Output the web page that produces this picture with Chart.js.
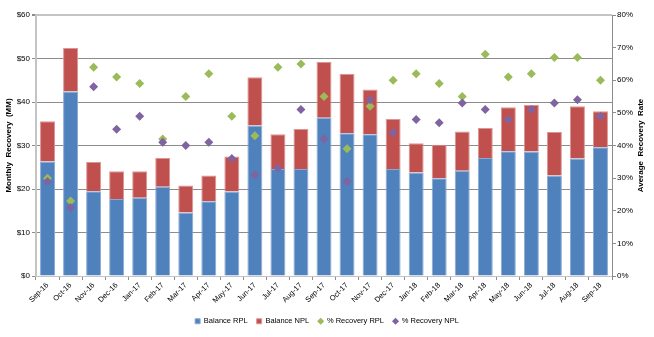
<!DOCTYPE html>
<html>
<head>
<meta charset="utf-8">
<script src="https://cdn.jsdelivr.net/npm/chart.js@4.4.1/dist/chart.umd.min.js"></script>
<style>
  html, body { margin: 0; padding: 0; background: #fff; }
  #wrap { width: 654px; height: 337px; position: relative; }
</style>
</head>
<body>
<div id="wrap"><canvas id="recoveryChart"></canvas></div>
<script>
const months = ['Sep-16', 'Oct-16', 'Nov-16', 'Dec-16', 'Jan-17', 'Feb-17', 'Mar-17', 'Apr-17',
  'May-17', 'Jun-17', 'Jul-17', 'Aug-17', 'Sep-17', 'Oct-17', 'Nov-17', 'Dec-17', 'Jan-18',
  'Feb-18', 'Mar-18', 'Apr-18', 'May-18', 'Jun-18', 'Jul-18', 'Aug-18', 'Sep-18'];

// $MM
const balanceRPL = [26.3, 42.4, 19.5, 17.7, 18.0, 20.5, 14.6, 17.2, 19.4, 34.6, 24.6, 24.6, 36.4,
  32.8, 32.6, 24.6, 23.8, 22.5, 24.2, 27.1, 28.7, 28.6, 23.1, 27.0, 29.6];
const balanceNPL = [9.3, 10.0, 6.7, 6.4, 6.1, 6.6, 6.2, 5.9, 8.1, 11.1, 8.0, 9.2, 12.8,
  13.7, 10.3, 11.5, 6.7, 7.7, 9.0, 6.9, 10.1, 10.7, 10.0, 12.0, 8.3];

// %
const recoveryRPL = [30, 23, 64, 61, 59, 42, 55, 62, 49, 43, 64, 65, 55,
  39, 52, 60, 62, 59, 55, 68, 61, 62, 67, 67, 60];
const recoveryNPL = [29, 21, 58, 45, 49, 41, 40, 41, 36, 31, 33, 51, 42,
  29, 54, 44, 48, 47, 53, 51, 48, 51, 53, 54, 49];

const leftTicks = [0, 10, 20, 30, 40, 50, 60];
const rightTicks = [0, 10, 20, 30, 40, 50, 60, 70, 80];

const FONT = "'Liberation Sans', Arial, sans-serif";

// right axis title reads bottom-to-top in the original
const rightTitle = {
  id: 'rightTitle',
  afterDraw(chart) {
    const { ctx, chartArea } = chart;
    ctx.save();
    ctx.translate(641, (chartArea.top + chartArea.bottom) / 2);
    ctx.rotate(-Math.PI / 2);
    ctx.font = 'bold 8px ' + FONT;
    ctx.fillStyle = '#000';
    ctx.textAlign = 'center';
    ctx.textBaseline = 'middle';
    ctx.fillText('Average  Recovery  Rate', 0, 0);
    ctx.restore();
  },
};

function gridColor(c) {
  return c.tick && c.tick.value === 60 ? '#c4c4c4' : '#8c8c8c';
}

new Chart(document.getElementById('recoveryChart'), {
  type: 'bar',
  data: {
    labels: months,
    datasets: [
      {
        label: 'Balance RPL',
        data: balanceRPL,
        backgroundColor: '#4f81bd',
        borderColor: '#8aaad4',
        borderWidth: 1,
        order: 2,
        pointStyle: 'rect',
      },
      {
        label: 'Balance NPL',
        data: balanceNPL,
        backgroundColor: '#c0504d',
        borderColor: '#dc9593',
        borderWidth: 1,
        order: 2,
        pointStyle: 'rect',
      },
      {
        type: 'line',
        label: '% Recovery RPL',
        data: recoveryRPL,
        yAxisID: 'y1',
        showLine: false,
        pointStyle: 'rectRot',
        pointRadius: 4.5,
        pointBackgroundColor: '#9bbb59',
        pointBorderColor: '#9bbb59',
        backgroundColor: '#9bbb59',
        borderColor: '#9bbb59',
        pointBorderWidth: 0,
        order: 1,
      },
      {
        type: 'line',
        label: '% Recovery NPL',
        data: recoveryNPL,
        yAxisID: 'y1',
        showLine: false,
        pointStyle: 'rectRot',
        pointRadius: 4.5,
        pointBackgroundColor: '#8064a2',
        pointBorderColor: '#8064a2',
        backgroundColor: '#8064a2',
        borderColor: '#8064a2',
        pointBorderWidth: 0,
        order: 0,
      },
    ],
  },
  options: {
    responsive: true,
    maintainAspectRatio: false,
    animation: false,
    layout: { padding: { top: 15, bottom: 2, left: 0, right: 0 } },
    datasets: { bar: { barPercentage: 0.65, categoryPercentage: 1 } },
    plugins: {
      legend: {
        position: 'bottom',
        labels: {
          usePointStyle: true,
          boxWidth: 5,
          boxHeight: 5,
          padding: 9,
          color: '#000',
          font: { family: FONT, size: 7.5 },
          sort: (a, b) => a.datasetIndex - b.datasetIndex,
        },
      },
      tooltip: { enabled: false },
    },
    scales: {
      x: {
        stacked: true,
        afterFit(scale) { scale.height = 32.5; },
        grid: { display: true, drawOnChartArea: false, drawTicks: true, tickLength: 4, color: '#8c8c8c', offset: true },
        border: { color: '#c4c4c4', width: 1 },
        ticks: {
          color: '#000',
          font: { family: FONT, size: 7.5 },
          minRotation: 45,
          maxRotation: 45,
          autoSkip: false,
          padding: 1,
        },
      },
      y: {
        stacked: true,
        position: 'left',
        min: leftTicks[0],
        max: leftTicks[leftTicks.length - 1],
        afterFit(scale) { scale.width = 36; },
        afterBuildTicks(scale) { scale.ticks = leftTicks.map(v => ({ value: v })); },
        grid: { color: gridColor, lineWidth: c => (c.tick && c.tick.value === 60 ? 2 : 1), tickLength: 4, tickColor: '#8c8c8c' },
        border: { color: '#c4c4c4', width: 2 },
        ticks: {
          color: '#000',
          font: { family: FONT, size: 8 },
          padding: 2,
          callback: v => '$' + v,
        },
        title: {
          display: true,
          text: 'Monthly  Recovery  (MM)',
          color: '#000',
          font: { family: FONT, size: 8, weight: 'bold' },
          padding: { top: 4, bottom: 0 },
        },
      },
      y1: {
        position: 'right',
        min: rightTicks[0],
        max: rightTicks[rightTicks.length - 1],
        afterFit(scale) { scale.width = 42; },
        afterBuildTicks(scale) { scale.ticks = rightTicks.map(v => ({ value: v })); },
        grid: { drawOnChartArea: false, tickLength: 4, color: '#8c8c8c' },
        border: { color: '#8c8c8c', width: 1 },
        ticks: {
          color: '#000',
          font: { family: FONT, size: 8 },
          padding: 1,
          callback: v => v + '%',
        },
      },
    },
  },
  plugins: [rightTitle],
});
</script>
</body>
</html>
